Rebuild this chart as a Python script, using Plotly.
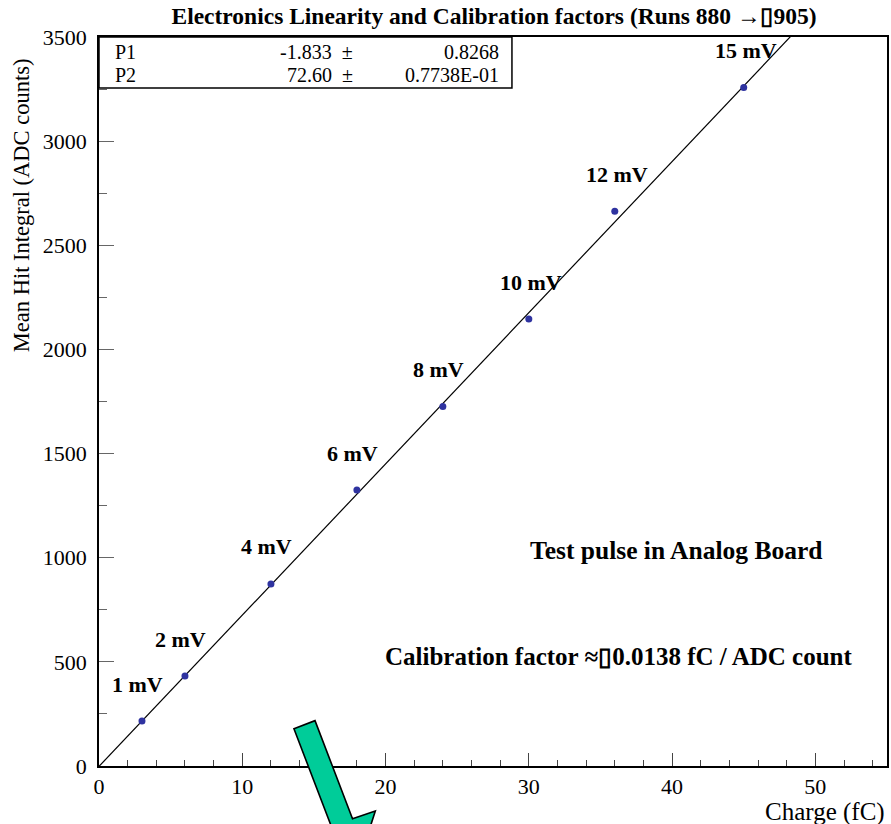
import math
import plotly.graph_objects as go

# Test-pulse amplitudes and the measured response
pulse_labels = ["1 mV", "2 mV", "4 mV", "6 mV", "8 mV", "10 mV", "12 mV", "15 mV"]
charge_fc = [3, 6, 12, 18, 24, 30, 36, 45]
mean_adc = [216, 432, 874, 1325, 1726, 2146, 2663, 3258]

# Linear fit parameters (intercept, slope) and their errors
fit_names = ["P1", "P2"]
fit_values = [-1.833, 72.60]
fit_value_text = ["-1.833", "72.60"]
fit_error_text = ["0.8268", "0.7738E-01"]

x_ticks = [0, 10, 20, 30, 40, 50]
y_ticks = [0, 500, 1000, 1500, 2000, 2500, 3000, 3500]

W, H = 891, 824
ML, MR, MT, MB = 99, 2, 37, 58
PW, PH = W - ML - MR, H - MT - MB

SERIF = "Liberation Serif"


def paper(px, py):
    """Convert page pixel position to paper fractions."""
    return (px - ML) / PW, (H - MB - py) / PH


fig = go.Figure()

# Fitted straight line y = P1 + P2 * x
fit_x = [0, 55]
fit_y = [fit_values[0] + fit_values[1] * v for v in fit_x]
fig.add_trace(go.Scatter(
    x=fit_x, y=fit_y, mode="lines",
    line=dict(color="black", width=1.2),
    hoverinfo="skip", showlegend=False,
))

# Measured points
fig.add_trace(go.Scatter(
    x=charge_fc, y=mean_adc, mode="markers",
    marker=dict(color="#2f33a0", size=7),
    showlegend=False,
))

annotations = []

# Pulse amplitude labels above each point
for lab, xv, yv in zip(pulse_labels, charge_fc, mean_adc):
    annotations.append(dict(
        x=xv, y=yv, xref="x", yref="y", text=f"<b>{lab}</b>",
        showarrow=False, xanchor="center", yanchor="middle",
        yshift=37, xshift=(-4 if len(lab) == 4 else 2),
        font=dict(family=SERIF, size=22, color="black"),
    ))

# Fit-parameter box
bx0, by0 = paper(99, 37)
bx1, by1 = paper(513, 88)
shapes = [dict(type="rect", xref="paper", yref="paper",
               x0=bx0, y0=by1, x1=bx1, y1=by0,
               line=dict(color="black", width=1.5), fillcolor="white", layer="above")]

row_y = [52, 75]
for name, val, err, ry in zip(fit_names, fit_value_text, fit_error_text, row_y):
    xa, ya = paper(113, ry)
    annotations.append(dict(x=xa, y=ya, xref="paper", yref="paper", text=name,
                            showarrow=False, xanchor="left", yanchor="middle",
                            font=dict(family=SERIF, size=20, color="black")))
    xb, _ = paper(356, ry)
    annotations.append(dict(x=xb, y=ya, xref="paper", yref="paper", text=f"{val}  ±",
                            showarrow=False, xanchor="right", yanchor="middle",
                            font=dict(family=SERIF, size=20, color="black")))
    xc, _ = paper(502, ry)
    annotations.append(dict(x=xc, y=ya, xref="paper", yref="paper", text=err,
                            showarrow=False, xanchor="right", yanchor="middle",
                            font=dict(family=SERIF, size=20, color="black")))

# Free text on the plot
tx, ty = paper(677, 550)
annotations.append(dict(x=tx, y=ty, xref="paper", yref="paper",
                        text="<b>Test pulse in Analog Board</b>", showarrow=False,
                        xanchor="center", yanchor="middle",
                        font=dict(family=SERIF, size=25.5, color="black")))
cx, cy = paper(620, 656)
annotations.append(dict(x=cx, y=cy, xref="paper", yref="paper",
                        text="<b>Calibration factor ≈▯0.0138 fC / ADC count</b>",
                        showarrow=False, xanchor="center", yanchor="middle",
                        font=dict(family=SERIF, size=25, color="black")))

# Axis titles (right / top aligned)
ax_x, ax_y = paper(889, 812)
annotations.append(dict(x=ax_x, y=ax_y, xref="paper", yref="paper", text="Charge (fC)",
                        showarrow=False, xanchor="right", yanchor="middle",
                        font=dict(family=SERIF, size=25, color="black")))
ay_x, ay_y = paper(22, 205)
annotations.append(dict(x=ay_x, y=ay_y, xref="paper", yref="paper",
                        text="Mean Hit Integral (ADC counts)", textangle=-90,
                        showarrow=False, xanchor="center", yanchor="middle",
                        font=dict(family=SERIF, size=22.5, color="black")))

# Green block arrow pointing down to the right
tail_cx, tail_cy = 305.0, 724.7
dx, dy = 37.6, 98.0
L = math.hypot(dx, dy)
ux, uy = dx / L, dy / L
nx, ny = uy, -ux
half_shaft, half_head, shaft_len, head_len = 11.3, 35.4, 105.0, 45.0


def pt(s, t):
    return paper(tail_cx + s * ux + t * nx, tail_cy + s * uy + t * ny)


arrow_pts = [pt(0, -half_shaft), pt(0, half_shaft), pt(shaft_len, half_shaft),
             pt(shaft_len + 1, half_head), pt(shaft_len + head_len, 0),
             pt(shaft_len + 1, -half_head), pt(shaft_len, -half_shaft)]
path = "M " + " L ".join(f"{a:.5f},{b:.5f}" for a, b in arrow_pts) + " Z"
shapes.append(dict(type="path", xref="paper", yref="paper", path=path,
                   fillcolor="#00cc99", line=dict(color="black", width=1.6), layer="above"))

fig.update_layout(
    width=W, height=H,
    margin=dict(l=ML, r=MR, t=MT, b=MB),
    paper_bgcolor="white", plot_bgcolor="white",
    title=dict(text="<b>Electronics Linearity and Calibration factors (Runs 880 →▯905)</b>",
               x=(ML + PW / 2) / W, xanchor="center", y=1 - 16 / H, yanchor="middle",
               font=dict(family=SERIF, size=23.5, color="black")),
    annotations=annotations,
    shapes=shapes,
    xaxis=dict(range=[0, 55], tickvals=x_ticks, ticks="inside", ticklen=13, tickwidth=1,
               tickcolor="#444", showline=True, linecolor="black", linewidth=1.5, mirror=True,
               showgrid=False, zeroline=False,
               minor=dict(dtick=2, ticks="inside", ticklen=6, tickcolor="#444", showgrid=False),
               tickfont=dict(family=SERIF, size=22, color="black")),
    yaxis=dict(range=[0, 3500], tickvals=y_ticks, ticks="inside", ticklen=15, tickwidth=1,
               tickcolor="#666", showline=True, linecolor="black", linewidth=1.5, mirror=True,
               showgrid=False, zeroline=False, ticklabelstandoff=6,
               minor=dict(dtick=250, ticks="inside", ticklen=8, tickcolor="#666", showgrid=False),
               tickfont=dict(family=SERIF, size=22, color="black")),
)

fig.write_html("out.html")
